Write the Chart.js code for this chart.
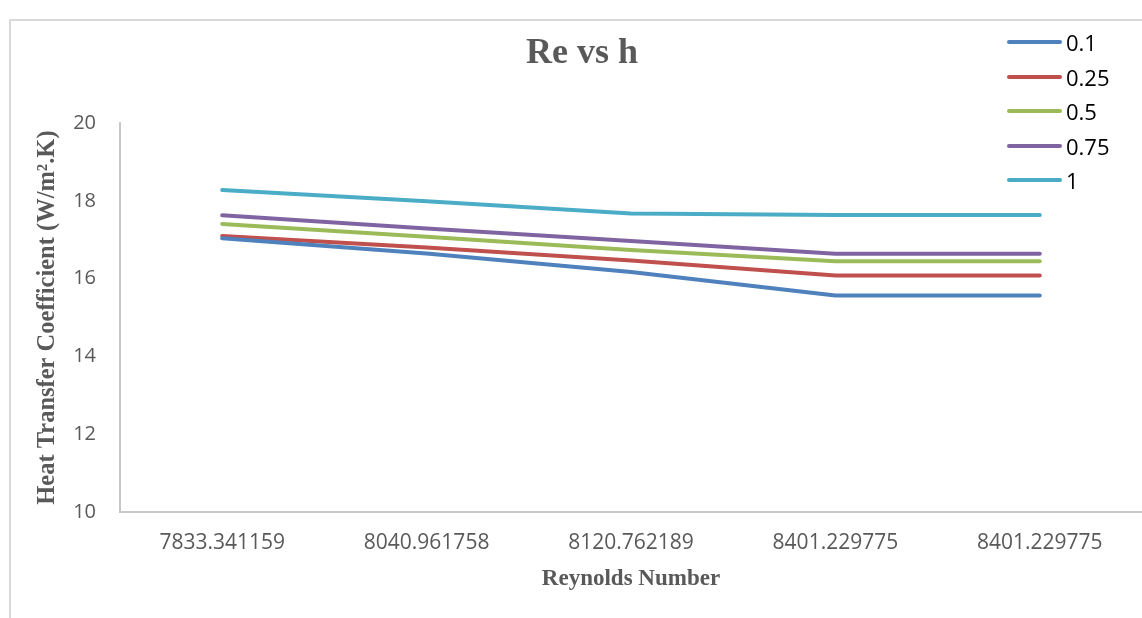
<!DOCTYPE html>
<html>
<head>
<meta charset="utf-8">
<script src="https://cdn.jsdelivr.net/npm/chart.js@4.4.0/dist/chart.umd.min.js"></script>
<style>
  html, body { margin: 0; padding: 0; background: #fff; }
  #wrap { position: relative; width: 1142px; height: 618px; overflow: hidden; }
  #frame { position: absolute; left: 9px; top: 19px; right: -5px; bottom: -5px;
           border-left: 2px solid #d9d9d9; border-top: 2px solid #d9d9d9; }
  canvas { position: absolute; left: 0; top: 0; }
  #legend { position: absolute; left: 1007px; top: 25px; font-family: "Open Sans", sans-serif;
            font-size: 22px; color: #000; }
  .item { height: 34.5px; display: flex; align-items: center; }
  .swatch { width: 55px; height: 4px; border-radius: 2px; margin-right: 4px; }
</style>
</head>
<body>
<div id="wrap">
  <div id="frame"></div>
  <canvas id="reChart" width="1142" height="618"></canvas>
  <div id="legend"></div>
</div>
<script>
// Reynolds number categories (x axis)
const reynolds = ["7833.341159", "8040.961758", "8120.762189", "8401.229775", "8401.229775"];
// series names
const seriesNames = ["0.1", "0.25", "0.5", "0.75", "1"];
// heat transfer coefficient values per series
const h01  = [17.04, 16.65, 16.17, 15.57, 15.57];
const h025 = [17.10, 16.80, 16.47, 16.08, 16.08];
const h05  = [17.41, 17.08, 16.74, 16.45, 16.45];
const h075 = [17.63, 17.29, 16.97, 16.64, 16.64];
const h1   = [18.28, 17.99, 17.68, 17.64, 17.64];
// y axis range
const yMin = 10, yMax = 20, yStep = 2;

const colors = ["#4F81BD", "#C0504D", "#9BBB59", "#8064A2", "#4BACC6"];
const values = [h01, h025, h05, h075, h1];

var datasets = seriesNames.map(function (name, i) {
  return {
    label: name,
    data: values[i],
    borderColor: colors[i],
    backgroundColor: colors[i],
    borderWidth: 4,
    borderCapStyle: "round",
    borderJoinStyle: "round",
    pointRadius: 0,
    fill: false,
    tension: 0
  };
});

var ctx = document.getElementById("reChart").getContext("2d");
var chart = new Chart(ctx, {
  type: "line",
  data: { labels: reynolds, datasets: datasets },
  options: {
    responsive: false,
    animation: false,
    layout: { padding: { left: 22, top: 0, right: 0, bottom: 0 } },
    plugins: {
      legend: { display: false },
      tooltip: { enabled: false },
      title: {
        display: true,
        text: "Re vs h",
        color: "#595959",
        font: { family: "'Liberation Serif', serif", size: 36, weight: "bold" },
        padding: { top: 32, bottom: 48 }
      }
    },
    scales: {
      x: {
        type: "category",
        offset: true,
        grid: { display: false, drawTicks: false },
        border: { display: true, color: "#c8c8c8", width: 2 },
        ticks: {
          autoSkip: false, maxRotation: 0, padding: 18,
          color: "#595959",
          font: { family: "'Open Sans', sans-serif", size: 21 }
        },
        title: {
          display: true,
          text: "Reynolds Number",
          color: "#595959",
          font: { family: "'Liberation Serif', serif", size: 23, weight: "bold" },
          padding: { top: 0, bottom: 25 }
        },
        afterFit: function (s) { s.height = 106; }
      },
      y: {
        min: yMin,
        max: yMax,
        grid: { display: false, drawTicks: false },
        border: { display: true, color: "#c8c8c8", width: 2 },
        ticks: {
          stepSize: yStep, padding: 24,
          color: "#595959",
          font: { family: "'Open Sans', sans-serif", size: 20 }
        },
        title: {
          display: true,
          text: "Heat Transfer Coefficient (W/m\u00B2.K)",
          color: "#595959",
          font: { family: "'Liberation Serif', serif", size: 24.5, weight: "bold" },
          padding: { top: 11, bottom: 0 }
        },
        afterFit: function (s) { s.width = 98; }
      }
    }
  }
});

// legend built from the datasets
var legend = document.getElementById("legend");
chart.data.datasets.forEach(function (ds) {
  var row = document.createElement("div");
  row.className = "item";
  var sw = document.createElement("span");
  sw.className = "swatch";
  sw.style.background = ds.borderColor;
  var txt = document.createElement("span");
  txt.textContent = ds.label;
  row.appendChild(sw);
  row.appendChild(txt);
  legend.appendChild(row);
});
</script>
</body>
</html>
